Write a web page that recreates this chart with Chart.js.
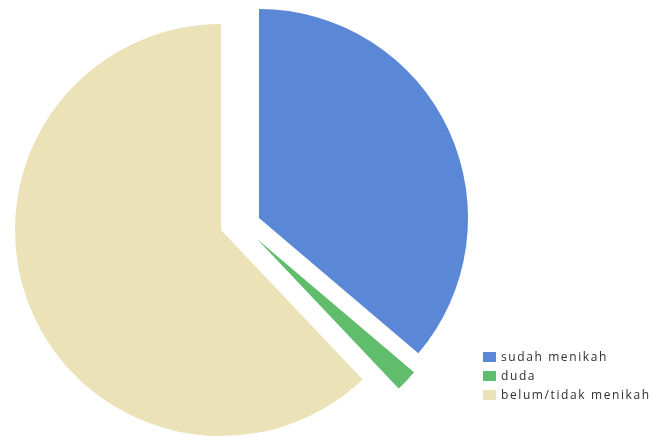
<!DOCTYPE html>
<html>
<head>
<meta charset="utf-8">
<script src="https://cdn.jsdelivr.net/npm/chart.js@4/dist/chart.umd.min.js"></script>
<style>
  html, body { margin: 0; padding: 0; background: #fff; }
  #wrap { position: relative; width: 653px; height: 439px; overflow: hidden; }
  #wrap canvas { position: absolute; left: 0; top: 0; }
  #legend { position: absolute; left: 483px; top: 347px; font: 12px "Open Sans", sans-serif; color: #2e2e2e; letter-spacing: 1.6px; }
  #legend div { height: 19px; line-height: 19px; white-space: nowrap; }
  #legend span { display: inline-block; width: 13px; height: 10px; margin-right: 5px; vertical-align: -1px; }
</style>
</head>
<body>
<div id="wrap">
  <div id="legend"></div>
</div>
<script>
const labels = ['sudah menikah', 'duda', 'belum/tidak menikah'];
const values = [21, 1, 36];
const colors = ['#5a87d6', '#5fbd6c', '#ebe2b7'];

// exploded pie: each slice is its own chart, shifted off the common centre
const W = 653, H = 439;
const centre = { x: 240, y: 224 };
const shift = [{ x: 19, y: -6 }, { x: 17, y: 15 }, { x: -19, y: 6 }];
const radii = [209, 206, 206];

function padFor(cx, cy) {
  const p = { left: 0, right: 0, top: 0, bottom: 0 };
  if (cx < W / 2) p.right = W - 2 * cx; else p.left = 2 * cx - W;
  if (cy < H / 2) p.bottom = H - 2 * cy; else p.top = 2 * cy - H;
  return p;
}

const wrap = document.getElementById('wrap');

[2, 1, 0].forEach((i) => {
  const cv = document.createElement('canvas');
  cv.width = W;
  cv.height = H;
  wrap.insertBefore(cv, document.getElementById('legend'));
  new Chart(cv, {
    type: 'pie',
    data: {
      labels: labels,
      datasets: [{
        data: values,
        backgroundColor: colors.map((c, j) => j === i ? c : 'rgba(0,0,0,0)'),
        borderWidth: 0,
        clip: false
      }]
    },
    options: {
      responsive: false,
      animation: false,
      radius: radii[i],
      layout: { padding: padFor(centre.x + shift[i].x, centre.y + shift[i].y) },
      plugins: { legend: { display: false }, tooltip: { enabled: false } }
    }
  });
});

const legend = document.getElementById('legend');
labels.forEach((l, i) => {
  const row = document.createElement('div');
  const sw = document.createElement('span');
  sw.style.background = colors[i];
  row.appendChild(sw);
  row.appendChild(document.createTextNode(l));
  legend.appendChild(row);
});
</script>
</body>
</html>
